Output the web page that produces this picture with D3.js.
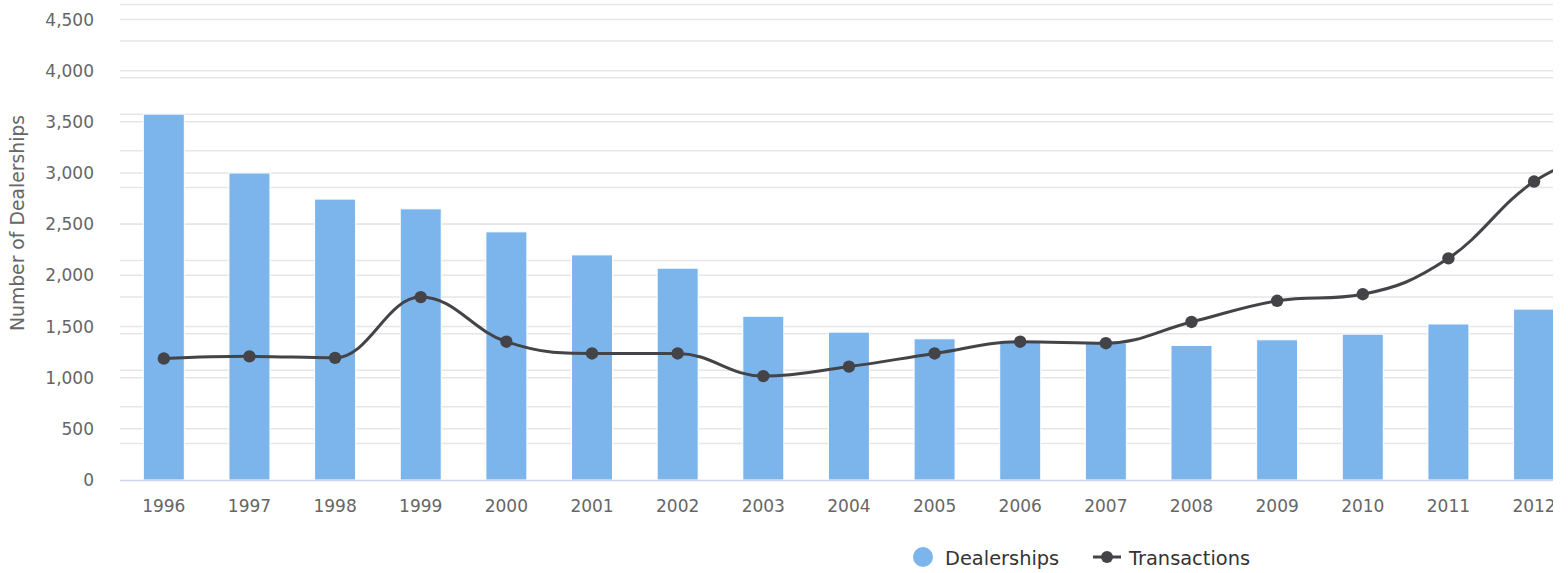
<!DOCTYPE html>
<html>
<head>
<meta charset="utf-8">
<script src="https://cdn.jsdelivr.net/npm/d3@7/dist/d3.min.js"></script>
<style>
  html, body { margin: 0; padding: 0; background: #fff; }
  svg { display: block; font-family: "DejaVu Sans", "Lucida Grande", sans-serif; }
</style>
</head>
<body>
<svg id="chart" width="1568" height="573"></svg>
<script>
// Years on the category axis (the last one lies beyond the visible plot edge)
const years = ["1996","1997","1998","1999","2000","2001","2002","2003","2004",
               "2005","2006","2007","2008","2009","2010","2011","2012","2013"];
// Number of dealerships per year (left axis)
const dealerships = [3575, 3000, 2745, 2650, 2425, 2200, 2070, 1600, 1445,
                     1380, 1355, 1340, 1315, 1370, 1425, 1525, 1670, null];
// Number of transactions per year (secondary, unlabelled axis)
const transactions = [166, 169, 167, 250, 189, 173, 173, 142, 155,
                      173, 189, 187, 216, 245, 254, 303, 408, 458];
// Left axis tick values
const leftTicks = [0, 500, 1000, 1500, 2000, 2500, 3000, 3500, 4000, 4500];
// Secondary axis tick values (gridlines only)
const rightTicks = d3.range(0, 651, 50);

const svg = d3.select("#chart");
const plot = { left: 121, top: 4.5, bottom: 480, right: 1553 };
const band = 85.64;

const x = d3.scaleBand()
  .domain(years)
  .range([plot.left, plot.left + band * years.length])
  .paddingInner(0).paddingOuter(0);
const yLeft = d3.scaleLinear().domain([0, 4500]).range([plot.bottom, 19.5]);
const yRight = d3.scaleLinear().domain([0, 650]).range([plot.bottom, plot.top]);

const defs = svg.append("defs");
defs.append("clipPath").attr("id", "plotClip")
  .append("rect")
  .attr("x", plot.left - 2).attr("y", 0)
  .attr("width", plot.right - plot.left + 2).attr("height", plot.bottom + 2);
// Horizontal clip for the category labels
defs.append("clipPath").attr("id", "labelClip")
  .append("rect")
  .attr("x", 0).attr("y", plot.bottom)
  .attr("width", plot.right).attr("height", 50);

// Gridlines: secondary axis then primary axis
const grid = svg.append("g").attr("clip-path", "url(#plotClip)");
grid.selectAll("line.r").data(rightTicks.filter(d => d > 0)).join("line")
  .attr("class", "r")
  .attr("x1", plot.left - 1).attr("x2", plot.right)
  .attr("y1", d => yRight(d)).attr("y2", d => yRight(d))
  .attr("stroke", "#e6e6e6").attr("stroke-width", 1.5);
grid.selectAll("line.l").data(leftTicks.filter(d => d > 0)).join("line")
  .attr("class", "l")
  .attr("x1", plot.left - 1).attr("x2", plot.right)
  .attr("y1", d => yLeft(d)).attr("y2", d => yLeft(d))
  .attr("stroke", "#e6e6e6").attr("stroke-width", 1.5);

// Columns
const barW = 41;
const bars = svg.append("g").attr("clip-path", "url(#plotClip)");
bars.selectAll("rect").data(years.map((y, i) => ({ y, v: dealerships[i] })).filter(d => d.v != null))
  .join("rect")
  .attr("x", d => x(d.y) + x.bandwidth() / 2 - barW / 2)
  .attr("y", d => yLeft(d.v))
  .attr("width", barW)
  .attr("height", d => yLeft(0) - yLeft(d.v))
  .attr("fill", "#7cb5ec")
  .attr("stroke", "#ffffff").attr("stroke-width", 1);

// X axis line
svg.append("line")
  .attr("x1", plot.left - 1).attr("x2", plot.right)
  .attr("y1", plot.bottom + 0.5).attr("y2", plot.bottom + 0.5)
  .attr("stroke", "#ccd6eb").attr("stroke-width", 1.5);

// Left axis labels
const fmt = d3.format(",");
svg.append("g").selectAll("text").data(leftTicks).join("text")
  .attr("x", 94).attr("y", d => yLeft(d))
  .attr("dy", "0.36em")
  .attr("text-anchor", "end")
  .attr("fill", "#666666").attr("font-size", 17)
  .text(d => fmt(d));

// X axis labels (only categories whose centre falls inside the plot)
svg.append("g").attr("clip-path", "url(#labelClip)")
  .selectAll("text")
  .data(years.filter(d => x(d) + x.bandwidth() / 2 < plot.right))
  .join("text")
  .attr("x", d => x(d) + x.bandwidth() / 2)
  .attr("y", 512)
  .attr("text-anchor", "middle")
  .attr("fill", "#666666").attr("font-size", 17)
  .text(d => d);

// Axis title
svg.append("text")
  .attr("transform", "translate(24,223) rotate(-90)")
  .attr("text-anchor", "middle")
  .attr("fill", "#666666").attr("font-size", 18.8)
  .text("Number of Dealerships");

// Smoothed line with the spline control-point rule used by column/spline combo charts
function splinePath(pts) {
  const sm = 1.5, den = 2.5, n = pts.length;
  const c = pts.map((p, i) => {
    if (i === 0 || i === n - 1) return { lx: p.x, ly: p.y, rx: p.x, ry: p.y };
    const a = pts[i - 1], b = pts[i + 1];
    let lx = (sm * p.x + a.x) / den, ly = (sm * p.y + a.y) / den;
    let rx = (sm * p.x + b.x) / den, ry = (sm * p.y + b.y) / den;
    if (rx !== lx) {
      const corr = ((ry - ly) * (rx - p.x)) / (rx - lx) + p.y - ry;
      ly += corr; ry += corr;
    }
    if (ly > a.y && ly > p.y) { ly = Math.max(a.y, p.y); ry = 2 * p.y - ly; }
    else if (ly < a.y && ly < p.y) { ly = Math.min(a.y, p.y); ry = 2 * p.y - ly; }
    if (ry > b.y && ry > p.y) { ry = Math.max(b.y, p.y); ly = 2 * p.y - ry; }
    else if (ry < b.y && ry < p.y) { ry = Math.min(b.y, p.y); ly = 2 * p.y - ry; }
    return { lx, ly, rx, ry };
  });
  let d = `M${pts[0].x},${pts[0].y}`;
  for (let i = 1; i < n; i++) {
    d += `C${c[i - 1].rx},${c[i - 1].ry} ${c[i].lx},${c[i].ly} ${pts[i].x},${pts[i].y}`;
  }
  return d;
}

const linePts = years.map((y, i) => ({ x: x(y) + x.bandwidth() / 2, y: yRight(transactions[i]) }));
const lineG = svg.append("g").attr("clip-path", "url(#plotClip)");
lineG.append("path")
  .attr("d", splinePath(linePts))
  .attr("fill", "none").attr("stroke", "#434348").attr("stroke-width", 3)
  .attr("stroke-linejoin", "round").attr("stroke-linecap", "round");
lineG.selectAll("circle").data(linePts).join("circle")
  .attr("cx", d => d.x).attr("cy", d => d.y).attr("r", 6.2)
  .attr("fill", "#434348");

// Legend
const legend = svg.append("g");
legend.append("circle").attr("cx", 923).attr("cy", 557).attr("r", 10).attr("fill", "#7cb5ec");
legend.append("text").attr("x", 945).attr("y", 565)
  .attr("fill", "#333333").attr("font-size", 19.4).text("Dealerships");
legend.append("line").attr("x1", 1093).attr("x2", 1121).attr("y1", 557).attr("y2", 557)
  .attr("stroke", "#434348").attr("stroke-width", 3);
legend.append("circle").attr("cx", 1107).attr("cy", 557).attr("r", 6).attr("fill", "#434348");
legend.append("text").attr("x", 1129).attr("y", 565)
  .attr("fill", "#333333").attr("font-size", 19.4).text("Transactions");
</script>
</body>
</html>
